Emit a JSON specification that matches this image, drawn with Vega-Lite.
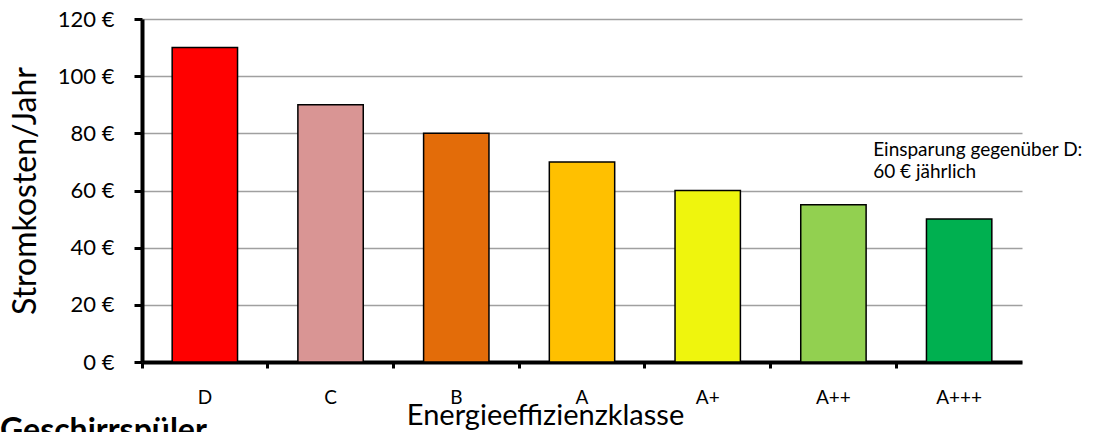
{
  "$schema": "https://vega.github.io/schema/vega-lite/v6.json",
  "width": 880,
  "height": 343,
  "autosize": "none",
  "padding": {"left": 142, "top": 19, "right": 79, "bottom": 70},
  "config": {
    "font": "Lato",
    "view": {"stroke": null}
  },
  "title": {
    "text": "Geschirrspüler",
    "orient": "bottom",
    "anchor": "start",
    "frame": "group",
    "dx": -142,
    "dy": -26,
    "offset": 12,
    "fontSize": 32,
    "fontWeight": "bold",
    "font": "Lato",
    "color": "#000000"
  },
  "layer": [
    {
      "data": {
        "values": [
          {"klasse": "D", "kosten": 110, "farbe": "#FF0000"},
          {"klasse": "C", "kosten": 90, "farbe": "#D99594"},
          {"klasse": "B", "kosten": 80, "farbe": "#E36C09"},
          {"klasse": "A", "kosten": 70, "farbe": "#FFC000"},
          {"klasse": "A+", "kosten": 60, "farbe": "#EFF50D"},
          {"klasse": "A++", "kosten": 55, "farbe": "#92D050"},
          {"klasse": "A+++", "kosten": 50, "farbe": "#00B050"}
        ]
      },
      "mark": {"type": "bar", "width": {"band": 0.52}, "stroke": "#000000", "strokeWidth": 1.5},
      "encoding": {
        "x": {
          "field": "klasse",
          "type": "nominal",
          "sort": null,
          "scale": {"paddingInner": 0, "paddingOuter": 0},
          "axis": {
            "title": "Energieeffizienzklasse",
            "titleFontSize": 29,
            "titleFontWeight": "normal",
            "titleFont": "Lato",
            "titleColor": "#000000",
            "titlePadding": -6,
            "titleAnchor": "middle",
            "titleX": 403,
            "labelAngle": 0,
            "labelFontSize": 19,
            "labelColor": "#000000",
            "labelPadding": 20,
            "bandPosition": 0,
            "domainColor": "#000000",
            "domainWidth": 4,
            "tickColor": "#000000",
            "tickWidth": 3,
            "tickSize": 6
          }
        },
        "y": {
          "field": "kosten",
          "type": "quantitative",
          "scale": {"domain": [0, 120]},
          "axis": {
            "title": "Stromkosten/Jahr",
            "titleFontSize": 32,
            "titleFontWeight": "normal",
            "titleFont": "Lato",
            "titleColor": "#000000",
            "titlePadding": 15,
            "values": [0, 20, 40, 60, 80, 100, 120],
            "labelExpr": "datum.value + ' €'",
            "labelFontSize": 22,
            "labelColor": "#000000",
            "labelPadding": 20,
            "domainColor": "#000000",
            "domainWidth": 4,
            "tickColor": "#000000",
            "tickWidth": 3,
            "tickSize": 8,
            "grid": true,
            "gridColor": "#A0A0A0",
            "gridWidth": 1.5
          }
        },
        "fill": {"field": "farbe", "type": "nominal", "scale": null, "legend": null}
      }
    },
    {
      "data": {
        "values": [
          {"klasse": "A+++", "kosten": 74, "text": ["Einsparung gegenüber D:", "60 € jährlich"]}
        ]
      },
      "mark": {"type": "text", "align": "left", "baseline": "middle", "fontSize": 19, "lineHeight": 22, "dx": -86, "color": "#000000"},
      "encoding": {
        "x": {"field": "klasse", "type": "nominal", "sort": ["D", "C", "B", "A", "A+", "A++", "A+++"]},
        "y": {"field": "kosten", "type": "quantitative"},
        "text": {"field": "text"}
      }
    }
  ]
}
